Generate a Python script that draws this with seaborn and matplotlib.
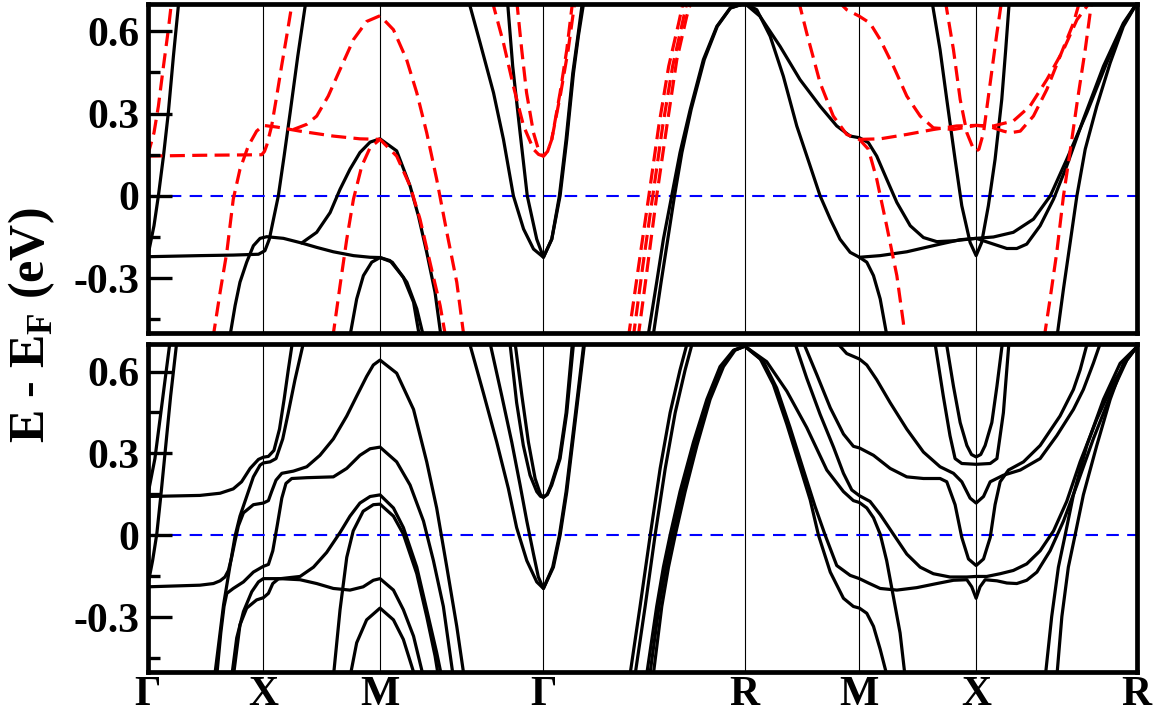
import pandas as pd
import matplotlib
matplotlib.use('Agg')
import matplotlib.pyplot as plt
import seaborn as sns

# high-symmetry points along the path
kpts = [0.0, 0.501, 1.006, 1.713, 2.584, 3.080, 3.585, 4.280]
klabels = ['Γ', 'X', 'M', 'Γ', 'R', 'M', 'X', 'R']
yticks = [-0.3, 0.0, 0.3, 0.6]
ytick_labels = ['-0.3', '0', '0.3', '0.6']
yminor = [-0.45, -0.15, 0.15, 0.45]

# ---- upper panel, black (solid) bands: (k, E) ----
top_up_1 = [(0.0, -0.225), (0.028, -0.109), (0.047, 0.0), (0.069, 0.145), (0.090, 0.303), (0.112, 0.509), (0.136, 0.715)]
top_up_2 = [(0.0, -0.222), (0.227, -0.218), (0.371, -0.216), (0.480, -0.213), (0.508, -0.200), (0.527, -0.158), (0.545, -0.085),
            (0.566, 0.0), (0.591, 0.145), (0.617, 0.303), (0.650, 0.509), (0.686, 0.715)]
top_up_3 = [(0.355, -0.52), (0.379, -0.400), (0.400, -0.315), (0.429, -0.242), (0.458, -0.182), (0.487, -0.155), (0.516, -0.149),
            (0.588, -0.155), (0.667, -0.172), (0.732, -0.133), (0.790, -0.061), (0.833, 0.024), (0.876, 0.097), (0.919, 0.158),
            (0.963, 0.196), (1.006, 0.208), (1.078, 0.164), (1.136, 0.036), (1.172, -0.073), (1.208, -0.206), (1.244, -0.352),
            (1.271, -0.52)]
top_up_4 = [(0.667, -0.172), (0.732, -0.188), (0.804, -0.204), (0.891, -0.218), (0.963, -0.224), (1.006, -0.225), (1.049, -0.236),
            (1.107, -0.297), (1.151, -0.388), (1.178, -0.52)]
top_up_5 = [(0.874, -0.52), (0.905, -0.376), (0.934, -0.291), (0.970, -0.242), (1.006, -0.225), (1.059, -0.242), (1.122, -0.315),
            (1.165, -0.412), (1.196, -0.52)]
top_up_6 = [(1.388, 0.715), (1.439, 0.558), (1.497, 0.376), (1.540, 0.206), (1.583, 0.0), (1.627, -0.121), (1.670, -0.194),
            (1.713, -0.224), (1.749, -0.158), (1.785, 0.0), (1.814, 0.206), (1.843, 0.448), (1.864, 0.582), (1.889, 0.715)]
top_up_7 = [(1.557, 0.715), (1.580, 0.473), (1.612, 0.230), (1.643, 0.0), (1.684, -0.158), (1.713, -0.224), (1.749, -0.158),
            (1.782, 0.0), (1.811, 0.206), (1.840, 0.448), (1.862, 0.582), (1.883, 0.715)]
top_up_8 = [(2.164, -0.52), (2.203, -0.315), (2.232, -0.158), (2.268, 0.0), (2.304, 0.158), (2.348, 0.315), (2.405, 0.497),
            (2.463, 0.618), (2.521, 0.685), (2.584, 0.702)]
top_up_9 = [(2.186, -0.52), (2.222, -0.315), (2.251, -0.158), (2.280, 0.0), (2.312, 0.158), (2.352, 0.315), (2.409, 0.497),
            (2.465, 0.618), (2.522, 0.685), (2.584, 0.702)]
top_up_10 = [(2.584, 0.702), (2.636, 0.679), (2.694, 0.582), (2.751, 0.436), (2.809, 0.255), (2.867, 0.109), (2.910, 0.0),
             (2.954, -0.085), (2.996, -0.158), (3.040, -0.206), (3.080, -0.224), (3.170, -0.218), (3.285, -0.204),
             (3.429, -0.176), (3.516, -0.160), (3.585, -0.155), (3.660, -0.150), (3.746, -0.133), (3.833, -0.085),
             (3.906, 0.0), (3.977, 0.133), (4.064, 0.303), (4.150, 0.485), (4.222, 0.624), (4.280, 0.702)]
top_up_11 = [(3.080, -0.224), (3.112, -0.242), (3.141, -0.291), (3.170, -0.376), (3.201, -0.52)]
top_up_12 = [(2.584, 0.702), (2.650, 0.655), (2.737, 0.545), (2.823, 0.424), (2.910, 0.327), (2.982, 0.255), (3.040, 0.218),
             (3.080, 0.212), (3.119, 0.194), (3.155, 0.145), (3.198, 0.061), (3.242, -0.024), (3.300, -0.109),
             (3.357, -0.152), (3.415, -0.167), (3.487, -0.164), (3.585, -0.155), (3.660, -0.176), (3.718, -0.192),
             (3.761, -0.192), (3.804, -0.176), (3.862, -0.109), (3.920, -0.012), (3.977, 0.109), (4.049, 0.279),
             (4.136, 0.473), (4.222, 0.630), (4.280, 0.702)]
top_up_13 = [(3.393, 0.715), (3.429, 0.533), (3.458, 0.352), (3.494, 0.133), (3.523, -0.036), (3.559, -0.170), (3.585, -0.218),
             (3.609, -0.170), (3.638, -0.036), (3.667, 0.133), (3.696, 0.352), (3.713, 0.533), (3.729, 0.715)]
top_up_14 = [(3.934, -0.52), (3.963, -0.339), (3.992, -0.170), (4.021, 0.0), (4.057, 0.170), (4.107, 0.327), (4.165, 0.485),
             (4.222, 0.618), (4.280, 0.702)]

# ---- upper panel, red (dashed) bands ----
top_dn_1 = [(0.0, 0.145), (0.028, 0.230), (0.047, 0.327), (0.069, 0.473), (0.090, 0.606), (0.105, 0.715)]
top_dn_2 = [(0.0, 0.145), (0.227, 0.148), (0.371, 0.149), (0.494, 0.150), (0.506, 0.162), (0.516, 0.185), (0.537, 0.255),
            (0.559, 0.364), (0.580, 0.473), (0.602, 0.582), (0.628, 0.715)]
top_dn_3 = [(0.283, -0.52), (0.314, -0.352), (0.343, -0.206), (0.371, -0.012), (0.400, 0.097), (0.436, 0.182), (0.472, 0.236),
            (0.501, 0.257), (0.559, 0.251), (0.660, 0.236), (0.804, 0.218), (0.919, 0.208), (1.006, 0.206), (1.078, 0.145),
            (1.136, 0.036), (1.179, -0.085), (1.222, -0.242), (1.266, -0.400), (1.291, -0.52)]
top_dn_4 = [(0.631, 0.242), (0.689, 0.261), (0.732, 0.291), (0.782, 0.364), (0.833, 0.461), (0.891, 0.570), (0.948, 0.636),
            (1.006, 0.657), (1.064, 0.606), (1.121, 0.497), (1.165, 0.376), (1.208, 0.230), (1.251, 0.061), (1.295, -0.133),
            (1.338, -0.315), (1.370, -0.52)]
top_dn_5 = [(0.801, -0.52), (0.833, -0.327), (0.862, -0.158), (0.891, -0.012), (0.927, 0.109), (0.963, 0.176), (1.006, 0.206)]
top_dn_6 = [(1.490, 0.715), (1.540, 0.558), (1.583, 0.400), (1.627, 0.255), (1.670, 0.170), (1.692, 0.151), (1.713, 0.145),
            (1.731, 0.162), (1.749, 0.206), (1.785, 0.376), (1.814, 0.533), (1.840, 0.715)]
top_dn_7 = [(1.597, 0.715), (1.619, 0.533), (1.640, 0.376), (1.670, 0.230), (1.691, 0.170), (1.702, 0.151), (1.713, 0.145),
            (1.731, 0.162), (1.749, 0.206), (1.788, 0.376), (1.820, 0.533), (1.850, 0.715)]
top_dn_8 = [(2.080, -0.52), (2.125, -0.255), (2.169, 0.0), (2.212, 0.255), (2.255, 0.473), (2.298, 0.630), (2.320, 0.715)]
top_dn_9 = [(2.101, -0.52), (2.143, -0.255), (2.186, 0.0), (2.229, 0.255), (2.272, 0.473), (2.314, 0.630), (2.336, 0.715)]
top_dn_10 = [(2.122, -0.52), (2.160, -0.279), (2.203, 0.0), (2.247, 0.255), (2.290, 0.497), (2.333, 0.655), (2.354, 0.715)]
top_dn_11 = [(2.816, 0.715), (2.852, 0.594), (2.910, 0.412), (2.967, 0.291), (3.025, 0.224), (3.080, 0.206), (3.119, 0.170),
             (3.155, 0.061), (3.198, -0.109), (3.242, -0.291), (3.270, -0.461), (3.276, -0.52)]
top_dn_12 = [(3.080, 0.206), (3.170, 0.208), (3.285, 0.224), (3.400, 0.242), (3.501, 0.255), (3.585, 0.257), (3.646, 0.252),
             (3.703, 0.236), (3.732, 0.230), (3.776, 0.236), (3.833, 0.291), (3.891, 0.388), (3.948, 0.509), (4.006, 0.630),
             (4.035, 0.715)]
top_dn_13 = [(2.982, 0.715), (3.025, 0.679), (3.080, 0.655), (3.126, 0.630), (3.170, 0.570), (3.227, 0.473), (3.285, 0.364),
             (3.343, 0.291), (3.400, 0.248), (3.487, 0.242), (3.585, 0.257), (3.660, 0.255), (3.746, 0.273), (3.818, 0.327),
             (3.891, 0.424), (3.963, 0.533), (4.021, 0.642), (4.085, 0.715)]
top_dn_14 = [(3.451, 0.715), (3.487, 0.533), (3.516, 0.352), (3.545, 0.230), (3.574, 0.170), (3.585, 0.163), (3.597, 0.170),
             (3.617, 0.230), (3.646, 0.412), (3.675, 0.594), (3.696, 0.715)]
top_dn_15 = [(3.879, -0.52), (3.905, -0.376), (3.934, -0.206), (3.963, 0.0), (3.995, 0.182), (4.024, 0.352), (4.057, 0.533),
             (4.086, 0.715)]

# ---- lower panel bands (black, solid) ----
bot_1 = [(0.0, -0.189), (0.022, -0.093), (0.040, 0.004), (0.058, 0.148), (0.079, 0.329), (0.100, 0.510), (0.129, 0.727)]
bot_2 = [(0.0, 0.142), (0.032, 0.281), (0.054, 0.425), (0.076, 0.570), (0.100, 0.727)]
bot_3 = [(0.0, 0.142), (0.227, 0.146), (0.314, 0.154), (0.371, 0.170), (0.407, 0.196), (0.444, 0.245), (0.480, 0.278),
         (0.501, 0.286), (0.523, 0.289), (0.547, 0.311), (0.571, 0.389), (0.591, 0.498), (0.609, 0.606), (0.628, 0.714)]
bot_4 = [(0.290, -0.52), (0.329, -0.255), (0.357, -0.111), (0.379, -0.002), (0.400, 0.070), (0.429, 0.142), (0.458, 0.214),
         (0.487, 0.257), (0.501, 0.265), (0.530, 0.269), (0.556, 0.281), (0.585, 0.353), (0.609, 0.449), (0.638, 0.570),
         (0.677, 0.714)]
bot_5 = [(0.0, -0.189), (0.227, -0.183), (0.285, -0.177), (0.314, -0.167), (0.335, -0.153), (0.350, -0.129), (0.364, -0.081),
         (0.379, -0.020), (0.393, 0.034), (0.415, 0.082), (0.458, 0.112), (0.501, 0.118), (0.523, 0.127), (0.537, 0.160),
         (0.556, 0.202), (0.581, 0.227), (0.631, 0.235), (0.689, 0.251), (0.746, 0.293), (0.804, 0.353), (0.862, 0.437),
         (0.905, 0.510), (0.948, 0.582), (0.977, 0.624), (1.006, 0.642), (1.078, 0.594), (1.151, 0.461), (1.208, 0.269),
         (1.251, 0.100), (1.295, -0.117), (1.338, -0.334), (1.370, -0.52)]
bot_6 = [(0.299, -0.52), (0.317, -0.358), (0.331, -0.261), (0.343, -0.213), (0.371, -0.195), (0.415, -0.171), (0.458, -0.135),
         (0.501, -0.114), (0.523, -0.107), (0.542, -0.057), (0.562, 0.040), (0.581, 0.136), (0.599, 0.190), (0.624, 0.208),
         (0.689, 0.211), (0.804, 0.214), (0.862, 0.245), (0.919, 0.293), (0.963, 0.317), (1.006, 0.323), (1.078, 0.269),
         (1.136, 0.184), (1.194, 0.052), (1.237, -0.093), (1.280, -0.261), (1.323, -0.52)]
bot_7 = [(0.364, -0.52), (0.386, -0.376), (0.415, -0.280), (0.451, -0.207), (0.480, -0.171), (0.501, -0.159), (0.573, -0.159),
         (0.660, -0.163), (0.732, -0.177), (0.804, -0.195), (0.876, -0.201), (0.933, -0.189), (0.977, -0.165),
         (1.006, -0.159), (1.064, -0.201), (1.107, -0.273), (1.151, -0.370), (1.194, -0.52)]
bot_8 = [(0.371, -0.52), (0.400, -0.328), (0.429, -0.267), (0.472, -0.237), (0.501, -0.229), (0.523, -0.213), (0.542, -0.177),
         (0.566, -0.160), (0.617, -0.155), (0.660, -0.151), (0.718, -0.117), (0.775, -0.063), (0.833, 0.010), (0.876, 0.070),
         (0.919, 0.118), (0.963, 0.142), (1.006, 0.148), (1.064, 0.100), (1.107, 0.028), (1.165, -0.117), (1.208, -0.273),
         (1.251, -0.430), (1.273, -0.52)]
bot_9 = [(0.804, -0.52), (0.833, -0.273), (0.862, -0.081), (0.890, 0.016), (0.933, 0.088), (0.977, 0.112), (1.006, 0.114),
         (1.064, 0.070), (1.107, 0.004), (1.165, -0.141), (1.208, -0.298), (1.244, -0.442), (1.259, -0.52)]
bot_10 = [(0.876, -0.52), (0.905, -0.394), (0.948, -0.310), (1.006, -0.267), (1.064, -0.310), (1.107, -0.382), (1.158, -0.52)]
bot_11 = [(1.388, 0.72), (1.453, 0.522), (1.511, 0.341), (1.561, 0.172), (1.597, 0.028), (1.641, -0.093), (1.684, -0.171),
          (1.713, -0.195), (1.756, -0.117), (1.785, 0.0), (1.814, 0.160), (1.843, 0.365), (1.872, 0.570), (1.893, 0.72)]
bot_12 = [(1.478, 0.72), (1.533, 0.510), (1.576, 0.341), (1.612, 0.184), (1.641, 0.052), (1.670, -0.069), (1.691, -0.153),
          (1.713, -0.195), (1.753, -0.117), (1.782, 0.0), (1.811, 0.160), (1.840, 0.365), (1.869, 0.570), (1.890, 0.72)]
bot_13 = [(1.566, 0.72), (1.597, 0.486), (1.626, 0.329), (1.655, 0.220), (1.684, 0.160), (1.700, 0.143), (1.713, 0.139),
          (1.730, 0.150), (1.749, 0.184), (1.785, 0.281), (1.814, 0.449), (1.845, 0.72)]
bot_14 = [(1.588, 0.72), (1.620, 0.510), (1.648, 0.341), (1.677, 0.208), (1.700, 0.150), (1.713, 0.139), (1.730, 0.150),
          (1.746, 0.184), (1.782, 0.281), (1.811, 0.449), (1.840, 0.72)]
bot_15 = [(2.086, -0.52), (2.131, -0.261), (2.175, 0.0), (2.218, 0.245), (2.261, 0.449), (2.304, 0.606), (2.340, 0.72)]
bot_16 = [(2.108, -0.52), (2.153, -0.261), (2.196, 0.0), (2.240, 0.245), (2.283, 0.449), (2.326, 0.606), (2.362, 0.72)]
bot_17 = [(2.158, -0.52), (2.203, -0.261), (2.232, -0.117), (2.261, 0.0), (2.304, 0.160), (2.362, 0.341), (2.420, 0.498),
          (2.477, 0.618), (2.535, 0.678), (2.584, 0.693)]
bot_18 = [(2.172, -0.52), (2.213, -0.261), (2.243, -0.117), (2.272, 0.0), (2.315, 0.160), (2.370, 0.335), (2.427, 0.498),
          (2.485, 0.618), (2.538, 0.678), (2.584, 0.693)]
bot_19 = [(2.187, -0.52), (2.225, -0.261), (2.254, -0.117), (2.283, 0.0), (2.326, 0.160), (2.377, 0.329), (2.434, 0.498),
          (2.492, 0.618), (2.542, 0.678), (2.584, 0.693)]
bot_20 = [(2.968, 0.72), (3.025, 0.666), (3.080, 0.646), (3.112, 0.624), (3.155, 0.570), (3.213, 0.486), (3.285, 0.389),
          (3.357, 0.305), (3.429, 0.251), (3.487, 0.227), (3.523, 0.196), (3.559, 0.136), (3.585, 0.118), (3.617, 0.142),
          (3.646, 0.196), (3.703, 0.220), (3.776, 0.239), (3.862, 0.281), (3.934, 0.365), (4.006, 0.461), (4.049, 0.534),
          (4.092, 0.630), (4.129, 0.72)]
bot_21 = [(2.831, 0.72), (2.896, 0.588), (2.954, 0.467), (3.011, 0.371), (3.054, 0.326), (3.080, 0.320), (3.141, 0.293),
          (3.213, 0.245), (3.285, 0.214), (3.357, 0.208), (3.429, 0.208), (3.458, 0.196), (3.494, 0.112), (3.523, -0.008),
          (3.552, -0.087), (3.585, -0.111), (3.617, -0.087), (3.646, -0.008), (3.667, 0.112), (3.689, 0.196),
          (3.725, 0.239), (3.790, 0.269), (3.862, 0.329), (3.948, 0.437), (4.006, 0.534), (4.035, 0.606), (4.071, 0.72)]
bot_22 = [(2.795, 0.72), (2.852, 0.576), (2.910, 0.443), (2.968, 0.323), (3.011, 0.227), (3.047, 0.166), (3.080, 0.145),
          (3.126, 0.124), (3.170, 0.076), (3.227, 0.004), (3.285, -0.069), (3.343, -0.117), (3.400, -0.141),
          (3.472, -0.153), (3.545, -0.153), (3.585, -0.151), (3.631, -0.151), (3.689, -0.141), (3.746, -0.129),
          (3.804, -0.105), (3.862, -0.057), (3.920, 0.016), (3.977, 0.124), (4.035, 0.269), (4.107, 0.425),
          (4.179, 0.558), (4.237, 0.642), (4.280, 0.690)]
bot_23 = [(2.584, 0.693), (2.679, 0.636), (2.766, 0.528), (2.852, 0.395), (2.939, 0.239), (3.011, 0.160), (3.054, 0.127),
          (3.080, 0.120), (3.112, 0.100), (3.141, 0.064), (3.170, 0.004), (3.198, -0.093), (3.227, -0.225),
          (3.256, -0.358), (3.278, -0.52)]
bot_24 = [(2.584, 0.693), (2.665, 0.636), (2.722, 0.540), (2.780, 0.395), (2.838, 0.239), (2.888, 0.106), (2.932, 0.0),
          (2.982, -0.111), (3.040, -0.147), (3.080, -0.159), (3.119, -0.175), (3.170, -0.195), (3.242, -0.201),
          (3.328, -0.192), (3.415, -0.177), (3.487, -0.165), (3.545, -0.163), (3.566, -0.189), (3.585, -0.231),
          (3.602, -0.189), (3.624, -0.163), (3.675, -0.167), (3.718, -0.175), (3.761, -0.177), (3.804, -0.165),
          (3.848, -0.135), (3.905, -0.057), (3.963, 0.052), (4.021, 0.184), (4.092, 0.353), (4.165, 0.510),
          (4.237, 0.642), (4.280, 0.690)]
bot_25 = [(2.584, 0.693), (2.650, 0.648), (2.708, 0.552), (2.766, 0.407), (2.823, 0.251), (2.867, 0.130), (2.903, 0.0),
          (2.954, -0.135), (3.011, -0.231), (3.054, -0.261), (3.080, -0.267), (3.112, -0.286), (3.141, -0.334),
          (3.170, -0.418), (3.201, -0.52)]
bot_26 = [(3.452, 0.727), (3.487, 0.546), (3.516, 0.413), (3.545, 0.329), (3.565, 0.296), (3.585, 0.287), (3.605, 0.296),
          (3.624, 0.329), (3.653, 0.413), (3.675, 0.546), (3.702, 0.727)]
bot_27 = [(3.403, 0.727), (3.443, 0.510), (3.472, 0.365), (3.494, 0.281), (3.523, 0.263), (3.585, 0.260), (3.646, 0.263),
          (3.675, 0.281), (3.703, 0.449), (3.729, 0.727)]
bot_28 = [(3.884, -0.52), (3.912, -0.298), (3.941, -0.117), (3.970, 0.0), (4.006, 0.148), (4.064, 0.329), (4.136, 0.498),
          (4.208, 0.630), (4.280, 0.690)]
bot_29 = [(3.934, -0.52), (3.956, -0.298), (3.984, -0.117), (4.013, 0.0), (4.049, 0.148), (4.107, 0.329), (4.165, 0.498),
          (4.222, 0.630), (4.280, 0.690)]

top_up = [top_up_1, top_up_2, top_up_3, top_up_4, top_up_5, top_up_6, top_up_7, top_up_8, top_up_9,
          top_up_10, top_up_11, top_up_12, top_up_13, top_up_14]
top_dn = [top_dn_1, top_dn_2, top_dn_3, top_dn_4, top_dn_5, top_dn_6, top_dn_7, top_dn_8, top_dn_9,
          top_dn_10, top_dn_11, top_dn_12, top_dn_13, top_dn_14, top_dn_15]
bot_up = [bot_1, bot_2, bot_3, bot_4, bot_5, bot_6, bot_7, bot_8, bot_9, bot_10, bot_11, bot_12, bot_13, bot_14,
          bot_15, bot_16, bot_17, bot_18, bot_19, bot_20, bot_21, bot_22, bot_23, bot_24, bot_25, bot_26, bot_27,
          bot_28, bot_29]


def band_frame(bands, spin):
    rows = []
    for i, band in enumerate(bands):
        for k, e in band:
            rows.append({'band': f'{spin}{i}', 'spin': spin, 'k': k, 'E': e})
    return pd.DataFrame(rows)


sns.set_style('white', {'axes.edgecolor': 'black', 'text.color': 'black',
                        'xtick.color': 'black', 'ytick.color': 'black'})
plt.rcParams['font.family'] = ['Liberation Serif', 'DejaVu Serif']
plt.rcParams['mathtext.fontset'] = 'custom'
plt.rcParams['mathtext.rm'] = 'Liberation Serif'
plt.rcParams['mathtext.bf'] = 'Liberation Serif:bold'
plt.rcParams['lines.solid_joinstyle'] = 'round'
plt.rcParams['lines.dash_joinstyle'] = 'round'

colors = {'up': 'black', 'dn': 'red'}
dash_map = {'up': '', 'dn': (4.7, 2.3)}


def plot_panel(ax, df, show_labels):
    for k in kpts[1:-1]:
        ax.axvline(k, color='black', lw=0.8, zorder=1)
    ax.axhline(0, color='blue', lw=1.5, dashes=(6, 4), zorder=1.5)
    levels = [s for s in ['up', 'dn'] if s in set(df['spin'])]
    sns.lineplot(data=df, x='k', y='E', units='band', estimator=None, sort=False,
                 hue='spin', hue_order=levels, style='spin', style_order=levels,
                 palette={s: colors[s] for s in levels}, dashes={s: dash_map[s] for s in levels},
                 linewidth=2.3, legend=False, ax=ax)
    ax.set_xlim(kpts[0], kpts[-1])
    ax.set_ylim(-0.5, 0.7)
    ax.set_xlabel('')
    ax.set_ylabel('')
    for s in ax.spines.values():
        s.set_visible(True)
        s.set_linewidth(3.4)
        s.set_color('black')
    ax.set_yticks(yticks)
    ax.set_yticklabels(ytick_labels, fontsize=30, fontweight='bold')
    ax.set_yticks(yminor, minor=True)
    ax.tick_params(axis='y', which='major', direction='in', length=17, width=2.4, pad=6, left=True, right=False)
    ax.tick_params(axis='y', which='minor', direction='in', length=8.5, width=2.4, left=True, right=False)
    ax.set_xticks(kpts)
    if show_labels:
        ax.set_xticklabels(klabels, fontsize=30, fontweight='bold')
    else:
        ax.set_xticklabels([])
    ax.tick_params(axis='x', which='both', length=0, pad=3)
    ax.set_axisbelow(False)


fig = plt.figure(figsize=(11.57, 7.16), dpi=100)
ax_top = fig.add_axes([0.1275, 0.535, 0.855, 0.4595])
ax_bot = fig.add_axes([0.1275, 0.0619, 0.855, 0.4573])

top_df = pd.concat([band_frame(top_up, 'up'), band_frame(top_dn, 'dn')], ignore_index=True)
bot_df = band_frame(bot_up, 'up')

plot_panel(ax_top, top_df, False)
plot_panel(ax_bot, bot_df, True)

fig.text(0.027, 0.546, r'E - E$_\mathbf{F}$ (eV)', rotation=90, va='center', ha='center',
         fontsize=36, fontweight='bold')

fig.savefig('out.png', dpi=100)
